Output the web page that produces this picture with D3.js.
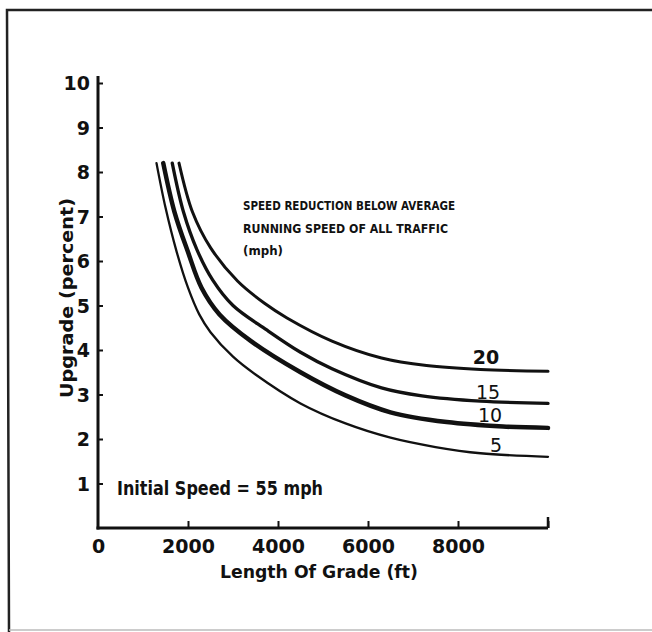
<!DOCTYPE html>
<html>
<head>
<meta charset="utf-8">
<script src="https://cdn.jsdelivr.net/npm/d3@7"></script>
<style>
  body { margin: 0; background: #fff; }
  text { font-family: "DejaVu Sans", sans-serif; fill: #111; }
</style>
</head>
<body>
<svg id="chart" width="652" height="632"></svg>
<script>
// speed reduction curves (length of grade ft, upgrade %)
const lengths5 = [1300, 1500, 1750, 2000, 2250, 2500, 3000, 3500, 4500, 5500, 6500, 7500, 8500, 10000];
const grade5 = [8.2, 7.2, 6.2, 5.4, 4.8, 4.4, 3.85, 3.45, 2.8, 2.35, 2.03, 1.82, 1.68, 1.6];

const lengths10 = [1450, 1700, 2000, 2300, 2700, 3400, 4500, 5500, 6500, 7750, 9000, 10000];
const grade10 = [8.2, 7.1, 6.2, 5.4, 4.8, 4.2, 3.5, 2.98, 2.6, 2.38, 2.28, 2.25];

const lengths15 = [1650, 1900, 2200, 2550, 3000, 3750, 4500, 5200, 6300, 7200, 8500, 10000];
const grade15 = [8.2, 7.1, 6.25, 5.57, 5.0, 4.45, 3.95, 3.58, 3.15, 2.97, 2.85, 2.8];

const lengths20 = [1800, 2100, 2500, 3100, 3700, 4200, 5200, 6300, 7300, 8500, 10000];
const grade20 = [8.2, 7.1, 6.3, 5.55, 5.05, 4.72, 4.2, 3.82, 3.65, 3.56, 3.52];

const curveNames = ["5", "10", "15", "20"];
const yTicks = [1, 2, 3, 4, 5, 6, 7, 8, 9, 10];
const xTicks = [0, 2000, 4000, 6000, 8000, 10000];
const noteLines = ["SPEED REDUCTION BELOW AVERAGE", "RUNNING SPEED OF ALL TRAFFIC", "(mph)"];

const svg = d3.select("#chart");

// scanned page frame
svg.append("path")
  .attr("d", "M652,10 L7,10 L9,632")
  .attr("fill", "none")
  .attr("stroke", "#222")
  .attr("stroke-width", 2.5);
svg.append("line")
  .attr("x1", 9).attr("x2", 652)
  .attr("y1", 630).attr("y2", 630)
  .attr("stroke", "#bbb")
  .attr("stroke-width", 1.5);

const x = d3.scaleLinear().domain([0, 10000]).range([98, 548]);
const y = d3.scaleLinear().domain([0, 10]).range([528, 83]);

// y axis
const yAxis = svg.append("g")
  .attr("transform", `translate(${x(0)},0)`)
  .call(d3.axisLeft(y).tickValues(yTicks).tickSize(-5).tickPadding(8).tickFormat(d3.format("d")));
yAxis.select(".domain").remove();
yAxis.selectAll(".tick line").attr("stroke", "#111").attr("stroke-width", 2);
yAxis.selectAll(".tick text")
  .attr("font-size", "19px")
  .attr("font-weight", "bold")
  .attr("dy", "0.36em");

svg.append("line")
  .attr("x1", x(0)).attr("x2", x(0))
  .attr("y1", y(10) - 7).attr("y2", y(0) + 1.5)
  .attr("stroke", "#111")
  .attr("stroke-width", 3);

// x axis
const xAxis = svg.append("g")
  .attr("transform", `translate(0,${y(0)})`)
  .call(d3.axisBottom(x).tickValues(xTicks).tickSize(-7).tickPadding(12)
    .tickFormat(d => d === 10000 ? "" : d));
xAxis.select(".domain").remove();
xAxis.selectAll(".tick line").attr("stroke", "#111").attr("stroke-width", 2)
  .filter(d => d === 0).remove();
xAxis.selectAll(".tick text")
  .attr("font-size", "19px")
  .attr("font-weight", "bold");

svg.append("line")
  .attr("x1", x(0) - 1.5).attr("x2", x(10000))
  .attr("y1", y(0)).attr("y2", y(0))
  .attr("stroke", "#111")
  .attr("stroke-width", 3);
svg.append("line")
  .attr("x1", x(10000)).attr("x2", x(10000))
  .attr("y1", y(0)).attr("y2", y(0) - 11)
  .attr("stroke", "#111")
  .attr("stroke-width", 2.5);

// axis titles
svg.append("text")
  .attr("x", 220).attr("y", 578)
  .attr("font-size", "18px")
  .attr("font-weight", "bold")
  .attr("textLength", 198)
  .attr("lengthAdjust", "spacingAndGlyphs")
  .text("Length Of Grade (ft)");

svg.append("text")
  .attr("transform", "translate(73,398) rotate(-90)")
  .attr("font-size", "18px")
  .attr("font-weight", "bold")
  .attr("textLength", 200)
  .attr("lengthAdjust", "spacingAndGlyphs")
  .text("Upgrade (percent)");

// curves
const series = [
  { name: curveNames[0], xs: lengths5, ys: grade5, width: 2.3, label: [496, 452], bold: false },
  { name: curveNames[1], xs: lengths10, ys: grade10, width: 4.5, label: [490, 422], bold: false },
  { name: curveNames[2], xs: lengths15, ys: grade15, width: 3.3, label: [488, 399], bold: false },
  { name: curveNames[3], xs: lengths20, ys: grade20, width: 3, label: [486, 364], bold: true }
];

const line = d3.line()
  .x(d => x(d[0]))
  .y(d => y(d[1]))
  .curve(d3.curveCatmullRom.alpha(0.5));

series.forEach(s => {
  const pts = s.xs.map((v, i) => [v, s.ys[i]]);
  svg.append("path")
    .attr("d", line(pts))
    .attr("fill", "none")
    .attr("stroke", "#111")
    .attr("stroke-width", s.width)
    .attr("stroke-linecap", "round");

  svg.append("text")
    .attr("x", s.label[0]).attr("y", s.label[1])
    .attr("text-anchor", "middle")
    .attr("font-size", "19px")
    .attr("font-weight", s.bold ? "bold" : "normal")
    .text(s.name);
});

// notes
svg.append("text")
  .attr("x", 117).attr("y", 495)
  .attr("font-size", "19px")
  .attr("font-weight", "bold")
  .attr("textLength", 206)
  .attr("lengthAdjust", "spacingAndGlyphs")
  .text("Initial Speed = 55 mph");

svg.selectAll(".note")
  .data(noteLines)
  .join("text")
  .attr("class", "note")
  .attr("x", 243)
  .attr("y", (d, i) => 210 + i * 22.5)
  .attr("font-size", "11.5px")
  .attr("font-weight", "bold")
  .attr("textLength", (d, i) => [212, 205, 40][i])
  .attr("lengthAdjust", "spacingAndGlyphs")
  .text(d => d);
</script>
</body>
</html>
